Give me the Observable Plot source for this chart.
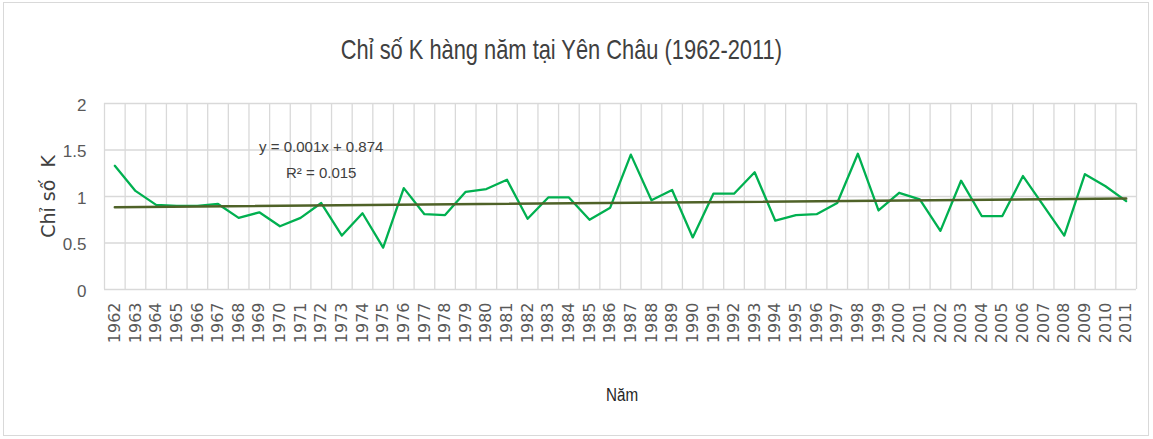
<!DOCTYPE html>
<html>
<head>
<meta charset="utf-8">
<script src="https://cdn.jsdelivr.net/npm/d3@7"></script>
<script src="https://cdn.jsdelivr.net/npm/@observablehq/plot@0.6"></script>
<style>
  html, body { margin: 0; padding: 0; background: #fff; }
  #wrap { position: relative; width: 1153px; height: 439px; overflow: hidden; }
  #frame { position: absolute; left: 3px; top: 2px; width: 1146px; height: 434px; border: 1px solid #d9d9d9; box-sizing: border-box; }
  #title { position: absolute; left: 0; width: 1123px; top: 35px; text-align: center;
           font-family: "Liberation Sans", sans-serif; font-size: 28px; line-height: 30px; color: #404040; white-space: nowrap;
           transform: scaleX(0.78); transform-origin: 561px 0; }
  #xlabel { position: absolute; left: 0; width: 1244px; top: 384px; text-align: center;
           font-family: "Liberation Sans", sans-serif; font-size: 19px; color: #262626;
           transform: scaleX(0.8); transform-origin: 622px 0; }
  #chart { position: absolute; left: 0; top: 0; }
  #chart svg g[aria-label="x-axis tick label"] text { font-family: "DejaVu Sans", sans-serif; }
  #chart svg g[aria-label="y-axis tick label"] text { font-family: "Liberation Sans", sans-serif; }
</style>
</head>
<body>
<div id="wrap">
  <div id="frame"></div>
  <div id="chart"></div>
  <div id="title">Chỉ số K hàng năm tại Yên Châu (1962-2011)</div>
  <div id="xlabel">Năm</div>
</div>
<script>
// ---- data ----
const years = [1962,1963,1964,1965,1966,1967,1968,1969,1970,1971,1972,1973,1974,1975,1976,1977,1978,1979,1980,1981,
               1982,1983,1984,1985,1986,1987,1988,1989,1990,1991,1992,1993,1994,1995,1996,1997,1998,1999,2000,2001,
               2002,2003,2004,2005,2006,2007,2008,2009,2010,2011];
const kValues = [1.33,1.06,0.91,0.90,0.90,0.92,0.77,0.83,0.68,0.77,0.93,0.58,0.82,0.45,1.09,0.81,0.80,1.05,1.08,1.18,
                 0.76,0.99,0.99,0.75,0.88,1.45,0.96,1.07,0.56,1.03,1.03,1.26,0.74,0.80,0.81,0.93,1.46,0.85,1.04,0.97,
                 0.63,1.17,0.79,0.79,1.22,0.90,0.58,1.24,1.11,0.95];
const yTicks = [0, 0.5, 1, 1.5, 2];
const yTickLabels = ["0", "0.5", "1", "1.5", "2"];
const titleText = "Chỉ số K hàng năm tại Yên Châu (1962-2011)";
const yLabelText = "Chỉ số  K";
const xLabelText = "Năm";
const equationLines = [
  {text: "y = 0.001x + 0.874", year: 1972.0, value: 1.53},
  {text: "R² = 0.015", year: 1972.0, value: 1.25}
];

// ---- build ----
const data = years.map((y, i) => ({year: y, k: kValues[i]}));

// least-squares trend over index 1..n (as in Excel)
const n = data.length;
const xs = data.map((d, i) => i + 1);
const mx = d3.mean(xs), my = d3.mean(kValues);
const slope = d3.sum(xs, (x, i) => (x - mx) * (kValues[i] - my)) / d3.sum(xs, x => (x - mx) ** 2);
const intercept = my - slope * mx;
const trend = [
  {year: years[0], k: intercept + slope * 1},
  {year: years[n - 1], k: intercept + slope * n}
];

// category boundaries for the vertical grid
const boundaries = [years[0] - 0.5, ...years.map(y => y + 0.5)];

const plot = Plot.plot({
  width: 1153,
  height: 439,
  marginLeft: 104,
  marginRight: 17,
  marginTop: 103,
  marginBottom: 150,
  style: {background: "transparent", overflow: "visible"},
  x: {domain: [boundaries[0], boundaries[boundaries.length - 1]], label: null},
  y: {domain: [0, 2], label: null},
  marks: [
    Plot.ruleY(yTicks, {stroke: "#d9d9d9", strokeWidth: 1.3}),
    Plot.ruleX(boundaries, {stroke: "#d9d9d9", strokeWidth: 1.3}),
    Plot.axisY({ticks: yTicks, tickFormat: (d) => yTickLabels[yTicks.indexOf(d)], tickSize: 0, tickPadding: 18,
                fontSize: 17, fill: "#595959", label: null, dy: 2}),
    Plot.axisX({ticks: years, tickFormat: (d) => String(d), tickRotate: -90, tickSize: 0, tickPadding: 13,
                fontSize: 16, fill: "#595959", label: null}),
    Plot.line(data, {x: "year", y: "k", stroke: "#00b050", strokeWidth: 2.3}),
    Plot.line(trend, {x: "year", y: "k", stroke: "#4f6228", strokeWidth: 2.5}),
    Plot.text(equationLines, {x: "year", y: "value", text: "text", fontSize: 15, fill: "#404040",
                              fontFamily: '"Liberation Sans", sans-serif'}),
    Plot.text([yLabelText], {frameAnchor: "left", textAnchor: "middle", rotate: -90, dx: -56, fontSize: 19, fill: "#404040",
                              fontFamily: '"DejaVu Sans", sans-serif', text: d => d})
  ]
});
document.getElementById("chart").appendChild(plot);
document.getElementById("title").textContent = titleText;
document.getElementById("xlabel").textContent = xLabelText;
</script>
</body>
</html>
